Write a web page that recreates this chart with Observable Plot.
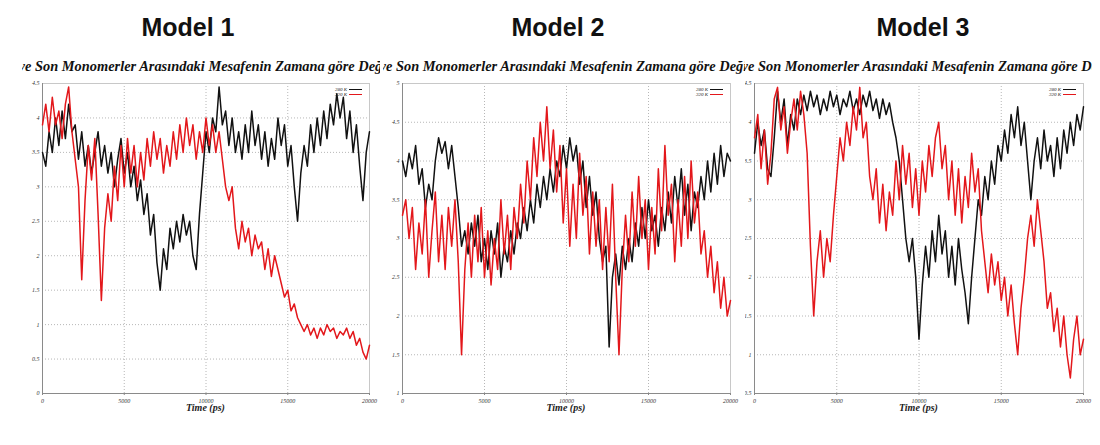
<!DOCTYPE html>
<html><head><meta charset="utf-8">
<script src="https://cdn.jsdelivr.net/npm/d3@7"></script>
<script src="https://cdn.jsdelivr.net/npm/@observablehq/plot@0.6"></script>
<style>
body{margin:0;background:#fff;width:1100px;height:445px;overflow:hidden;position:relative;font-family:"Liberation Sans",Arial,sans-serif}
.panel{position:absolute;top:0;height:445px;overflow:hidden}
.title{position:absolute;top:13px;font-weight:bold;font-size:25px;color:#111;transform:translateX(-50%);white-space:nowrap}
.subwin{position:absolute;top:58px;height:22px;overflow:hidden}
.sub{position:absolute;top:0;white-space:nowrap;font-family:"Liberation Serif",serif;font-weight:bold;font-style:italic;font-size:14.4px;color:#111}
.svgwrap{position:absolute;top:78px}
.xlab{position:absolute;top:402px;transform:translateX(-50%);font-family:"Liberation Serif",serif;font-weight:bold;font-style:italic;font-size:10px;color:#222;white-space:nowrap}
.leg{position:absolute;font-family:"Liberation Serif",serif;font-style:italic;font-size:5px;color:#222;line-height:5px}
.leg div{display:flex;align-items:center;justify-content:flex-end}
.leg span.sw{display:inline-block;width:13px;height:0;margin-left:2px}
</style>
</head><body>
<script>
const titles = ["Model 1", "Model 2", "Model 3"];
const subtitle = "İlk ve Son Monomerler Arasındaki Mesafenin Zamana göre Değişimi";
const seriesNames = ["280 K", "320 K"];
const xLabel = "Time (ps)";
const xTicks = [0, 5000, 10000, 15000, 20000];
const yTicks1 = [0, 0.5, 1, 1.5, 2, 2.5, 3, 3.5, 4, 4.5];
const yTicks2 = [1, 1.5, 2, 2.5, 3, 3.5, 4, 4.5, 5];
const yTicks3 = [0.5, 1, 1.5, 2, 2.5, 3, 3.5, 4, 4.5];
const time = d3.range(0, 20001, 200);

const m1_280 = [3.5,3.3,3.8,3.5,4.0,3.6,4.1,3.7,4.2,3.8,3.9,3.4,3.8,3.3,3.6,3.2,3.5,3.8,3.3,3.6,3.2,3.5,3.0,3.4,3.7,3.2,3.5,3.0,3.3,2.8,3.1,2.6,2.9,2.3,2.6,1.9,1.5,2.1,1.8,2.4,2.1,2.5,2.2,2.6,2.3,2.5,2.0,1.8,2.6,3.2,3.8,3.5,4.0,3.8,4.45,3.9,4.1,3.6,4.0,3.5,3.8,3.4,3.9,3.5,4.1,3.6,3.9,3.4,3.8,3.3,3.7,3.4,4.0,3.6,3.9,3.3,3.6,3.0,2.5,3.2,3.6,3.3,3.9,3.5,4.0,3.6,4.1,3.7,4.2,3.9,4.35,4.0,4.3,3.7,4.1,3.5,3.9,3.3,2.8,3.5,3.8];
const m1_320 = [3.9,4.2,3.8,4.3,3.9,4.1,3.7,4.2,4.45,3.8,3.4,3.0,1.65,2.8,3.6,3.1,3.7,2.6,1.35,2.4,2.9,2.5,3.3,2.8,3.6,3.0,3.7,3.2,3.6,3.0,3.5,3.1,3.7,3.3,3.8,3.4,3.7,3.2,3.6,3.3,3.8,3.4,3.9,3.5,4.0,3.6,3.9,3.4,3.8,3.5,4.0,3.6,3.9,3.5,3.8,3.4,3.0,2.8,3.0,2.4,2.1,2.5,2.2,2.4,2.0,2.3,2.1,2.2,1.8,2.1,1.7,2.0,1.8,1.6,1.4,1.5,1.2,1.3,1.1,1.0,0.9,1.0,0.85,0.95,0.8,0.95,0.85,1.0,0.9,0.95,0.8,0.9,0.85,0.95,0.8,0.9,0.7,0.8,0.6,0.5,0.7];
const m2_280 = [4.0,3.8,4.1,3.9,4.2,3.7,3.9,3.4,3.7,3.5,4.0,4.3,4.1,4.25,3.9,4.2,3.8,3.4,2.9,3.1,2.8,3.2,2.9,3.3,2.7,3.0,2.6,3.1,2.8,3.2,2.5,2.9,2.7,3.1,2.8,3.2,3.0,3.4,3.1,3.5,3.2,3.7,3.4,3.8,3.5,3.9,3.6,4.0,3.8,4.2,3.9,4.3,4.0,4.2,3.7,4.0,3.4,3.8,3.3,3.6,3.0,2.7,2.9,1.6,2.5,2.8,2.4,2.9,2.6,3.0,2.7,3.2,2.9,3.4,3.0,3.5,3.1,3.3,2.9,3.4,3.1,3.6,3.2,3.8,3.4,3.9,3.3,3.7,3.1,3.6,3.4,3.8,3.5,4.0,3.6,4.1,3.7,4.2,3.8,4.1,4.0];
const m2_320 = [3.3,3.5,3.0,3.4,2.6,3.2,2.8,3.5,2.5,3.1,3.6,2.7,3.3,2.6,3.4,2.9,3.5,2.7,1.5,2.6,3.2,2.5,3.3,2.7,3.4,2.5,3.1,2.4,3.0,2.6,3.5,2.8,3.3,2.6,3.4,3.0,3.7,3.2,4.0,3.5,4.3,3.8,4.5,4.0,4.7,3.9,4.4,3.6,4.2,3.2,3.9,2.9,3.7,3.0,4.1,3.3,3.8,2.8,3.6,2.9,3.5,2.6,3.4,2.7,3.7,2.5,1.5,2.6,3.3,2.7,3.6,2.9,3.8,3.0,3.5,2.6,3.4,2.8,3.9,3.1,4.2,3.3,3.7,2.7,3.5,2.9,3.8,3.0,4.0,3.2,3.6,2.8,3.1,2.5,2.9,2.3,2.7,2.1,2.5,2.0,2.2];
const m3_280 = [3.6,4.0,3.7,3.9,3.4,3.3,3.8,4.4,4.0,4.3,3.7,4.1,3.9,4.3,4.1,4.35,4.15,4.4,4.2,4.35,4.1,4.3,4.15,4.4,4.2,4.35,4.1,4.3,4.2,4.4,4.15,4.3,4.1,4.35,4.2,4.4,4.15,4.3,4.05,4.3,4.1,4.25,4.0,3.8,3.5,3.0,2.5,2.2,2.5,2.0,1.2,1.9,2.4,2.0,2.6,2.2,2.8,2.3,2.6,2.0,2.4,1.9,2.5,2.1,1.8,1.4,2.0,2.5,3.0,2.8,3.3,3.0,3.5,3.2,3.7,3.5,3.9,3.6,4.1,3.8,4.2,3.7,4.0,3.5,3.0,3.5,3.8,3.4,3.9,3.5,3.7,3.3,3.8,3.4,3.9,3.6,4.0,3.7,4.1,3.9,4.2];
const m3_320 = [3.8,4.1,3.4,3.9,3.2,3.6,4.3,4.45,3.9,4.2,3.6,4.0,4.3,3.9,4.4,4.1,3.6,2.4,1.5,2.2,2.6,2.0,2.5,2.2,2.8,3.3,3.8,3.5,4.0,3.7,4.2,3.9,4.45,3.8,4.0,3.3,3.0,3.4,2.7,3.2,2.6,3.1,2.8,3.5,3.0,3.7,3.2,3.6,2.9,3.4,2.8,3.5,3.1,3.7,3.3,3.8,4.0,3.4,3.7,3.0,3.5,2.8,3.4,2.7,3.3,2.9,3.6,3.1,3.4,2.6,2.2,1.8,2.3,1.9,2.2,1.7,2.0,1.5,1.9,1.4,1.0,1.6,2.0,2.5,2.8,2.4,3.0,2.6,2.2,1.6,1.8,1.3,1.6,1.1,1.5,1.0,0.7,1.2,1.5,1.0,1.2];

const colors = ["#111111", "#e3171b"];

const panels = [
  {left:0, width:380, ml:42, mr:11, titleX:188, subL:22, subR:380, yDomain:[0,4.5], yTicks:yTicks1, data:[m1_280, m1_320]},
  {left:380, width:365, ml:22, mr:15, titleX:178, subL:3, subR:365, yDomain:[1,5], yTicks:yTicks2, data:[m2_280, m2_320]},
  {left:745, width:355, ml:9, mr:17, titleX:178, subL:0, subR:347, yDomain:[0.5,4.5], yTicks:yTicks3, data:[m3_280, m3_320]}
];

const fmt = d => String(d);

panels.forEach((p, k) => {
  const div = document.createElement("div");
  div.className = "panel";
  div.style.left = p.left + "px";
  div.style.width = p.width + "px";
  document.body.appendChild(div);

  const t = document.createElement("div");
  t.className = "title"; t.textContent = titles[k]; t.style.left = p.titleX + "px";
  div.appendChild(t);

  const win = document.createElement("div");
  win.className = "subwin";
  win.style.left = p.subL + "px"; win.style.width = (p.subR - p.subL) + "px";
  const s = document.createElement("div");
  s.className = "sub"; s.textContent = subtitle;
  win.appendChild(s);
  div.appendChild(win);
  const m = document.createElement("span");
  m.className = "sub"; m.style.visibility = "hidden"; m.textContent = "İlk v";
  win.appendChild(m);
  const pw = m.getBoundingClientRect().width;
  m.remove();
  s.style.left = (-pw + 3) + "px";

  const rows = [];
  p.data.forEach((arr, j) => arr.forEach((v, i) => rows.push({t: time[i], v, s: seriesNames[j]})));

  const chart = Plot.plot({
    width: p.width, height: 340,
    marginLeft: p.ml, marginRight: p.mr, marginTop: 5, marginBottom: 25,
    x: {domain: [0, 20000]},
    y: {domain: p.yDomain},
    color: {domain: seriesNames, range: colors},
    style: {fontFamily: "Liberation Serif, serif", fontStyle: "italic", fontSize: "6px", color: "#333", background: "transparent", overflow: "visible"},
    marks: [
      Plot.gridX(xTicks.slice(1, -1), {stroke: "#999", strokeOpacity: 0.7, strokeDasharray: "1,2"}),
      Plot.gridY(p.yTicks.slice(1, -1), {stroke: "#999", strokeOpacity: 0.7, strokeDasharray: "1,2"}),
      Plot.frame({stroke: "#c8c8c8"}),
      Plot.frame({anchor: "left", stroke: "#8a8a8a"}),
      Plot.frame({anchor: "bottom", stroke: "#8a8a8a"}),
      Plot.axisX({ticks: xTicks, tickFormat: fmt, tickSize: 2, tickPadding: 3, label: null, stroke:"#888"}),
      Plot.axisY({ticks: p.yTicks, tickFormat: fmt, tickSize: 0, tickPadding: 3, label: null}),
      Plot.lineY(rows, {x: "t", y: "v", z: "s", stroke: "s", strokeWidth: 1.5, curve: "linear"})
    ]
  });
  const wrap = document.createElement("div");
  wrap.className = "svgwrap";
  wrap.appendChild(chart);
  div.appendChild(wrap);

  const xl = document.createElement("div");
  xl.className = "xlab"; xl.textContent = xLabel;
  xl.style.left = (p.ml + (p.width - p.ml - p.mr) / 2) + "px";
  div.appendChild(xl);

  const leg = document.createElement("div");
  leg.className = "leg";
  leg.style.right = (p.mr + 7) + "px";
  leg.style.top = "87px";
  seriesNames.forEach((n, j) => {
    const r = document.createElement("div");
    r.innerHTML = `<span>${n}</span><span class="sw" style="border-top:${j===0?1.5:1}px solid ${colors[j]}"></span>`;
    leg.appendChild(r);
  });
  div.appendChild(leg);
});
</script>
</body></html>
